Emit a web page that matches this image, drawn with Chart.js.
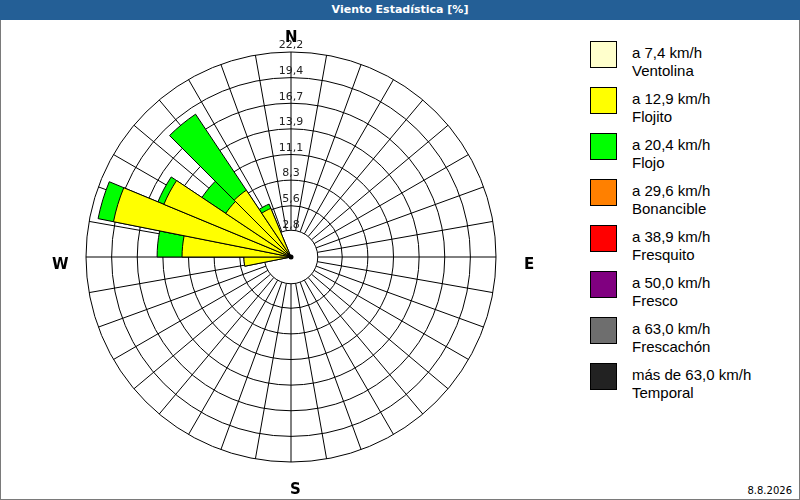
<!DOCTYPE html>
<html><head><meta charset="utf-8">
<script src="https://cdn.jsdelivr.net/npm/chart.js@4"></script>
<style>
body{margin:0;width:800px;height:500px;overflow:hidden;background:#fff;font-family:"DejaVu Sans",sans-serif}
#frame{position:absolute;left:0;top:0;width:798px;height:498px;border:1px solid #7a7a7a}
#title{position:absolute;left:0;top:0;width:800px;height:20px;background:#245f96;color:#fff;font:bold 11px "DejaVu Sans";text-align:center;line-height:20px}
#cw{position:absolute;left:0;top:20px;width:582px;height:474px}
.cp{position:absolute;font:bold 15px "DejaVu Sans";color:#000}
.lg{position:absolute;left:590px}
.lg .b{position:absolute;left:0;top:0;width:25px;height:25px;border:1px solid #000}
.lg .t{position:absolute;left:42px;top:3px;font:15px "Liberation Sans",sans-serif;line-height:18px;white-space:nowrap}
#date{position:absolute;right:8px;bottom:4px;font:10px "DejaVu Sans"}
</style></head><body>
<div id="frame"></div>
<div id="title">Viento Estadística [%]</div>
<div id="cw"><canvas id="c"></canvas></div>
<div class="cp" style="left:285px;top:28px">N</div>
<div class="cp" style="left:524px;top:255px">E</div>
<div class="cp" style="left:290px;top:480px">S</div>
<div class="cp" style="left:52px;top:255px">W</div>
<div id="legend"></div>
<div id="date">8.8.2026</div>
<script>
const directions = Array.from({length:32},(_,i)=>(i*11.25).toString());
// cumulative percentages per direction (index 0 = N, clockwise, 11.25° steps)
const ventolina = new Array(32).fill(0);
const flojito = [0,0,0,0,0,0,0,0,0,0,0,0,0,0,0,0,0,0,0,0,0,0,0,5.1,11.8,19.6,14.9,8.5,8.7,5.7,0,0];
const flojo   = [0,0,0,0,0,0,0,0,0,0,0,0,0,0,0,0,0,0,0,0,0,0,0,5.1,14.5,21.3,15.6,11.6,18.6,6.2,0,0];
const tickLabels = ["2,8","5,6","8,3","11,1","13,9","16,7","19,4","22,2"];
const tickValues = [2.775,5.55,8.325,11.1,13.875,16.65,19.425,22.2];
const legendColors = ["#ffffcc","#ffff00","#00ff00","#ff8000","#ff0000","#800080","#6e6e6e","#222222"];
const legendL1 = ["a 7,4 km/h","a 12,9 km/h","a 20,4 km/h","a 29,6 km/h","a 38,9 km/h","a 50,0 km/h","a 63,0 km/h","más de 63,0 km/h"];
const legendL2 = ["Ventolina","Flojito","Flojo","Bonancible","Fresquito","Fresco","Frescachón","Temporal"];

let lg='';
legendColors.forEach((c,i)=>{lg+=`<div class="lg" style="top:${41+i*46}px"><div class="b" style="background:${c}"></div><div class="t">${legendL1[i]}<br>${legendL2[i]}</div></div>`;});
document.getElementById('legend').innerHTML=lg;

const deco={id:'deco',
 beforeDatasetsDraw(ch){const s=ch.scales.r,ctx=ch.ctx,cx=s.xCenter,cy=s.yCenter,R=s.drawingArea;
  const h=s.getDistanceFromCenterForValue(2.9);
  ctx.save();ctx.strokeStyle='#000';ctx.lineWidth=1;
  for(let a=0;a<360;a+=10){const t=(a-90)*Math.PI/180;ctx.beginPath();ctx.moveTo(cx+h*Math.cos(t),cy+h*Math.sin(t));ctx.lineTo(cx+R*Math.cos(t),cy+R*Math.sin(t));ctx.stroke();}
  ctx.fillStyle='#fff';ctx.beginPath();ctx.arc(cx,cy,h,0,2*Math.PI);ctx.fill();ctx.stroke();
  ctx.restore();},
 afterDatasetsDraw(ch){const s=ch.scales.r,ctx=ch.ctx,cx=s.xCenter,cy=s.yCenter;
  ctx.save();ctx.fillStyle='#000';ctx.beginPath();ctx.arc(cx,cy,2.5,0,2*Math.PI);ctx.fill();
  ctx.font='11px "DejaVu Sans"';ctx.textAlign='center';ctx.textBaseline='bottom';ctx.fillStyle='#222';
  tickValues.forEach((v,i)=>{ctx.fillText(tickLabels[i],cx,cy-s.getDistanceFromCenterForValue(v)-1);});
  ctx.restore();}
};
new Chart(document.getElementById('c'),{type:'polarArea',
 data:{labels:directions,datasets:[
  {data:ventolina,backgroundColor:'#ffffcc',borderColor:'#000',borderWidth:1,order:0},
  {data:flojito,backgroundColor:'#ffff00',borderColor:'#000',borderWidth:1,order:1},
  {data:flojo,backgroundColor:'#00ff00',borderColor:'#000',borderWidth:1,order:2}]},
 options:{responsive:true,maintainAspectRatio:false,animation:false,startAngle:-5.625,
  layout:{padding:32},
  plugins:{legend:{display:false},tooltip:{enabled:false}},
  scales:{r:{min:0,max:22.2,ticks:{display:false,stepSize:2.775},grid:{color:'#000',lineWidth:1},angleLines:{display:false},pointLabels:{display:false}}}},
 plugins:[deco]});
</script></body></html>
